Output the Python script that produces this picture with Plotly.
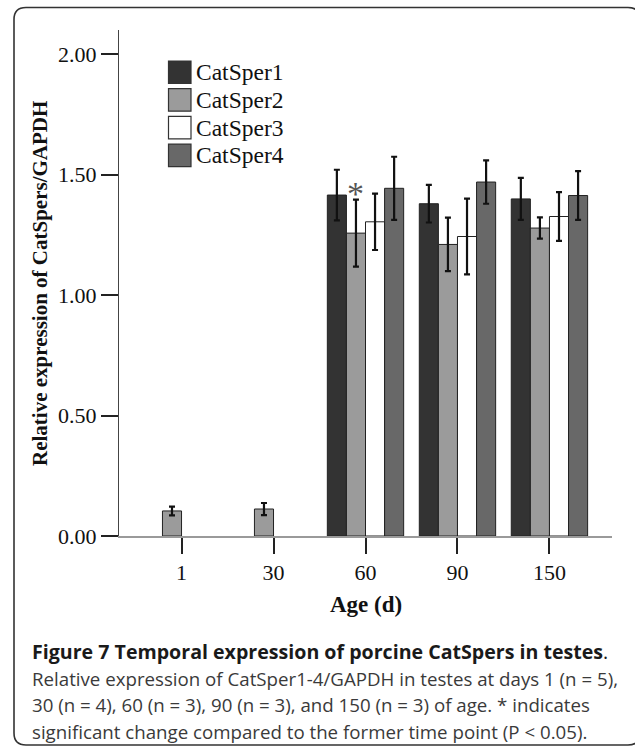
import plotly.graph_objects as go

# ---- data ----
days = ["1", "30", "60", "90", "150"]
series_names = ["CatSper1", "CatSper2", "CatSper3", "CatSper4"]
catsper1 = [None, None, 1.415, 1.379, 1.399]
catsper1_err = [None, None, 0.105, 0.078, 0.087]
catsper2 = [0.104, 0.112, 1.257, 1.210, 1.278]
catsper2_err = [0.018, 0.025, 0.139, 0.111, 0.044]
catsper3 = [None, None, 1.304, 1.243, 1.326]
catsper3_err = [None, None, 0.117, 0.157, 0.101]
catsper4 = [None, None, 1.443, 1.469, 1.413]
catsper4_err = [None, None, 0.131, 0.090, 0.101]
y_ticks = [0.0, 0.5, 1.0, 1.5, 2.0]
y_tick_labels = ["0.00", "0.50", "1.00", "1.50", "2.00"]
star_day = "60"
star_series = "CatSper2"

values = [catsper1, catsper2, catsper3, catsper4]
errors = [catsper1_err, catsper2_err, catsper3_err, catsper4_err]
colors = ["#333333", "#9b9b9b", "#ffffff", "#686868"]

W, H = 635, 748
L, R, T, B = 119, 612, 30, 536  # plot area in pixels
YMAX = 2.10
XR = [-0.68, 4.68]
BARGAP = 0.17


def px(x):
    return (x - L) / (R - L)


def py(y):
    return (B - y) / (B - T)


fig = go.Figure()
for name, v, e, c in zip(series_names, values, errors, colors):
    fig.add_trace(go.Bar(
        name=name, x=days, y=v,
        marker=dict(color=c, line=dict(color="#222222", width=1)),
        error_y=dict(type="data", array=e, visible=True, color="#111111",
                     thickness=2.2, width=3),
        showlegend=False,
    ))

serif = "Liberation Serif"
fig.update_layout(
    width=W, height=H,
    margin=dict(l=L, r=W - R, t=T, b=H - B),
    plot_bgcolor="white", paper_bgcolor="white",
    barmode="group", bargap=BARGAP, bargroupgap=0,
    showlegend=False,
    font=dict(family=serif, color="#111111"),
)
fig.update_xaxes(
    type="category", categoryorder="array", categoryarray=days,
    range=XR, showgrid=False, zeroline=False,
    showline=True, linecolor="#9a9a9a", linewidth=2,
    ticks="outside", ticklen=16, tickwidth=1.5, tickcolor="#222222",
    tickfont=dict(family=serif, size=22, color="#111111"),
)
fig.update_yaxes(
    range=[0, YMAX], showgrid=False, zeroline=False,
    showline=True, linecolor="#444444", linewidth=1.2,
    ticks="outside", ticklen=17, tickwidth=1.5, tickcolor="#222222",
    tickvals=y_ticks, ticktext=y_tick_labels,
    tickfont=dict(family=serif, size=22, color="#111111"),
)

annotations = []
# axis titles
annotations.append(dict(
    text="<b>Relative expression of CatSpers/GAPDH</b>", textangle=-90,
    xref="paper", yref="paper", x=px(40), y=py(284), showarrow=False,
    xanchor="center", yanchor="middle",
    font=dict(family=serif, size=21, color="#111111"),
))
annotations.append(dict(
    text="<b>Age (d)</b>",
    xref="paper", yref="paper", x=px(365.5), y=py(604), showarrow=False,
    xanchor="center", yanchor="middle",
    font=dict(family=serif, size=23, color="#111111"),
))

# significance asterisk above CatSper2 at day 60
di = days.index(star_day)
si = series_names.index(star_series)
bw = (1 - BARGAP) / len(series_names)
star_x = di - (1 - BARGAP) / 2 + bw * (si + 0.5)
star_y = values[si][di] + errors[si][di]
annotations.append(dict(
    text="*", xref="x", yref="y", x=star_x, y=star_y, showarrow=False,
    xanchor="center", yanchor="bottom", yshift=-14,
    font=dict(family=serif, size=34, color="#555555"),
))

# manual legend
shapes = []
box_x0, box_x1 = 168.5, 191
box_top, box_h, step = 61, 22.5, 27.7
for i, (name, c) in enumerate(zip(series_names, colors)):
    y0 = box_top + i * step
    shapes.append(dict(
        type="rect", xref="paper", yref="paper",
        x0=px(box_x0), x1=px(box_x1), y0=py(y0), y1=py(y0 + box_h),
        fillcolor=c, line=dict(color="#333333", width=1.2),
    ))
    annotations.append(dict(
        text=name, xref="paper", yref="paper", x=px(194), y=py(y0 + box_h / 2),
        showarrow=False, xanchor="left", yanchor="middle",
        font=dict(family=serif, size=23.5, color="#111111"),
    ))

# rounded frame
fl, ft, fr, fb, rr = 14, 7.5, 640, 745, 12
path = (
    f"M {px(fl)},{py(ft + rr)} "
    f"Q {px(fl)},{py(ft)} {px(fl + rr)},{py(ft)} "
    f"L {px(fr - rr)},{py(ft)} "
    f"Q {px(fr)},{py(ft)} {px(fr)},{py(ft + rr)} "
    f"L {px(fr)},{py(fb - rr)} "
    f"Q {px(fr)},{py(fb)} {px(fr - rr)},{py(fb)} "
    f"L {px(fl + rr)},{py(fb)} "
    f"Q {px(fl)},{py(fb)} {px(fl)},{py(fb - rr)} Z"
)
shapes.append(dict(type="path", xref="paper", yref="paper", path=path,
                   line=dict(color="#333333", width=1.6)))

# caption
sans = "Open Sans"
caption_lines = [
    "<b>Figure 7 Temporal expression of porcine CatSpers in testes</b>.",
    "Relative expression of CatSper1-4/GAPDH in testes at days 1 (n = 5),",
    "30 (n = 4), 60 (n = 3), 90 (n = 3), and 150 (n = 3) of age. * indicates",
    "significant change compared to the former time point (P &lt; 0.05).",
]
caption_y = [651.5, 678, 704.5, 731]
caption_sizes = [19.6, 18.7, 18.7, 18.7]
caption_colors = ["#1a1a1a", "#3a3a3a", "#3a3a3a", "#3a3a3a"]
for txt, yy, ss, cc in zip(caption_lines, caption_y, caption_sizes, caption_colors):
    annotations.append(dict(
        text=txt, xref="paper", yref="paper", x=px(30), y=py(yy),
        showarrow=False, xanchor="left", yanchor="middle",
        font=dict(family=sans, size=ss, color=cc),
    ))

fig.update_layout(annotations=annotations, shapes=shapes)
fig.write_html("out.html")
